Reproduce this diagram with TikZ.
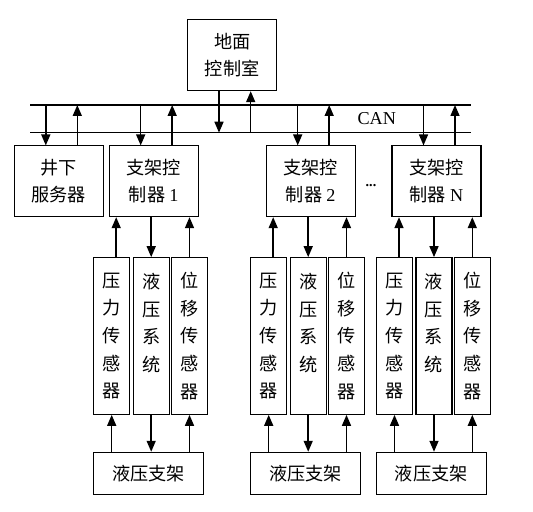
\documentclass[tikz,border=0pt]{standalone}
\usepackage{fontspec}
\setmainfont{Liberation Serif}
\newfontfamily\cjk{Noto Sans CJK SC}
\usetikzlibrary{arrows.meta}

\begin{document}
\begin{tikzpicture}[x=0.03cm, y=-0.03cm, >={Triangle[length=0.33cm,width=0.27cm]},
    box/.style={draw, line width=0.9pt, align=center, inner sep=0pt,
        minimum width=2.67cm, minimum height=2.12cm,
        font=\cjk\fontsize{15.5}{22.7}\selectfont},
    sensor/.style={box, minimum width=1.08cm, minimum height=4.7cm,
        font=\cjk\fontsize{15.5}{23.6}\selectfont},
    support/.style={box, minimum width=3.31cm, minimum height=1.26cm},
    link/.style={->, line width=1.3pt}]
    \useasboundingbox (0,0) rectangle (533,512);

    % 地面控制室与 CAN 总线
    \node[box] (gnd) at (232.2,55.3) {地面\\控制室};
    \coordinate (bt) at (30,105);
    \coordinate (btr) at (470.7,105);
    \coordinate (bb) at (30,132.7);
    \coordinate (bbr) at (470.7,132.7);
    \draw[line width=1.1pt] (bt) -- (btr);
    \draw[line width=1.1pt] (bb) -- (bbr);
    \node[font=\fontsize{15.5}{18}\selectfont] (can) at (376.7,118.8) {CAN};
    \draw[link] ([xshift=-0.396cm]gnd.south) -- ([xshift=-0.396cm]gnd.south |- bb);
    \draw[link] ([xshift=0.555cm]gnd.south |- bb) -- ([xshift=0.555cm]gnd.south);

    % 井下服务器
    \node[box] (srv) at (58.8,181.3) {井下\\服务器};

    % 支架控制器、传感器与液压支架
    \foreach \g/\x in {1/153.7, 2/310.7, N/436.5} {
        \node[box] (c\g) at (\x,181.3) {支架控\\制器 {\rmfamily\g}};
        \node[sensor] (p\g) at (\x-42,336) {压\\力\\传\\感\\器};
        \node[sensor] (h\g) at (\x-2.5,336) {液\\压\\系\\统\\~};
        \node[sensor] (d\g) at (\x+35.8,336) {位\\移\\传\\感\\器};
        \node[support] (s\g) at (\x-5.3,473.3) {液压支架};

        \draw[link] ([xshift=0.135cm]p\g.north) -- ([xshift=0.135cm]p\g.north |- c\g.south);
        \draw[link] (h\g.north |- c\g.south) -- (h\g.north);
        \draw[link] (d\g.north) -- (d\g.north |- c\g.south);
        \draw[link] (p\g.south |- s\g.north) -- (p\g.south);
        \draw[link] (h\g.south) -- (h\g.south |- s\g.north);
        \draw[link] (d\g.south |- s\g.north) -- (d\g.south);
    }
    \node[font=\bfseries\large] (dots) at (371,186) {...};

    % 总线上的收发箭头
    \foreach \n in {srv,c1,c2,cN} {
        \draw[link] ([xshift=-0.39cm]\n.north |- bt) -- ([xshift=-0.39cm]\n.north);
        \draw[link] ([xshift=0.555cm]\n.north) -- ([xshift=0.555cm]\n.north |- bt);
    }
\end{tikzpicture}
\end{document}
